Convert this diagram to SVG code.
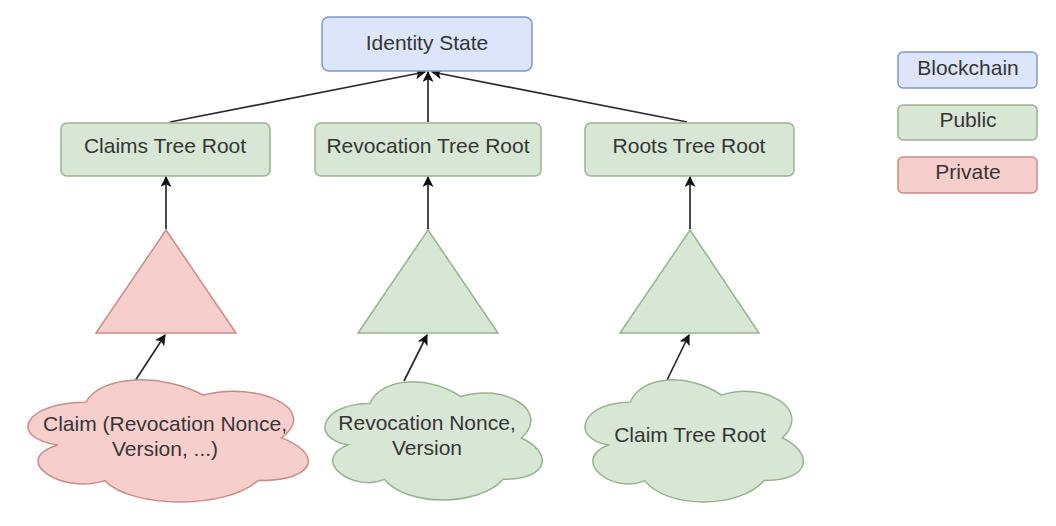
<svg xmlns="http://www.w3.org/2000/svg" xmlns:xlink="http://www.w3.org/1999/xlink" width="1056" height="526" viewBox="0 0 1056 526">
<style>
  .blue { fill: #dce5fa; stroke: #8197cc; stroke-width: 1.5; }
  .green { fill: #d8e6d5; stroke: #97b48d; stroke-width: 1.5; }
  .red { fill: #f6cfcc; stroke: #c98b88; stroke-width: 1.5; }
  text { font-family: "Liberation Sans", Arial, Helvetica, sans-serif; font-size: 21px; fill: #363636; text-anchor: middle; }
  .conn { stroke: #2a2a2a; stroke-width: 1.7; fill: none; marker-end: url(#arrow); }
</style>
<defs>
  <marker id="arrow" viewBox="0 0 10 10" refX="9" refY="5" markerWidth="11" markerHeight="11" markerUnits="userSpaceOnUse" orient="auto">
    <path d="M0 0 L10 5 L0 10 L2.5 5 Z" fill="#111"/>
  </marker>
  <path id="cloud" vector-effect="non-scaling-stroke" d="M25 25 C5 25 0 50 16 55 C0 66 18 90 31 80 C40 100 70 100 80 80 C100 80 100 60 87.5 50 C100 30 80 10 62.5 20 C50 5 30 5 25 25 Z"/>
</defs>
<rect width="1056" height="526" fill="#ffffff"/>

<g id="connectors">
  <line class="conn" x1="170" y1="122" x2="425" y2="72"/>
  <line class="conn" x1="428" y1="122" x2="428" y2="72"/>
  <line class="conn" x1="687" y1="122" x2="432" y2="72"/>
  <line class="conn" x1="166" y1="229" x2="166" y2="177"/>
  <line class="conn" x1="428" y1="229" x2="428" y2="177"/>
  <line class="conn" x1="690" y1="229" x2="690" y2="177"/>
  <line class="conn" x1="135" y1="381" x2="165" y2="335"/>
  <line class="conn" x1="404" y1="381" x2="427" y2="335"/>
  <line class="conn" x1="667" y1="380" x2="689" y2="335"/>
</g>

<g id="identity-state">
  <rect class="blue" x="322" y="17" width="210" height="54" rx="7"/>
  <text x="427" y="50">Identity State</text>
</g>

<g id="claims-tree-root">
  <rect class="green" x="61" y="123" width="209" height="53" rx="6"/>
  <text x="165" y="153">Claims Tree Root</text>
</g>
<g id="revocation-tree-root">
  <rect class="green" x="315" y="123" width="226" height="53" rx="6"/>
  <text x="428" y="153">Revocation Tree Root</text>
</g>
<g id="roots-tree-root">
  <rect class="green" x="585" y="123" width="209" height="53" rx="6"/>
  <text x="689" y="153">Roots Tree Root</text>
</g>

<g id="claims-tree">
  <polygon class="red" points="166,230 236,333 96,333"/>
</g>
<g id="revocation-tree">
  <polygon class="green" points="428,230 498,333 358,333"/>
</g>
<g id="roots-tree">
  <polygon class="green" points="690,230 759,333 620,333"/>
</g>

<g id="claim-cloud">
  <use xlink:href="#cloud" href="#cloud" class="red" transform="translate(7.7 366.6) scale(3.128 1.425)"/>
  <text x="165" y="431">Claim (Revocation Nonce,</text>
  <text x="165" y="456">Version, ...)</text>
</g>
<g id="revocation-cloud">
  <use xlink:href="#cloud" href="#cloud" class="green" transform="translate(309.2 369) scale(2.425 1.379)"/>
  <text x="427" y="430">Revocation Nonce,</text>
  <text x="427" y="455">Version</text>
</g>
<g id="claim-tree-root-cloud">
  <use xlink:href="#cloud" href="#cloud" class="green" transform="translate(569.2 366.6) scale(2.436 1.425)"/>
  <text x="690" y="442">Claim Tree Root</text>
</g>

<g id="legend-blockchain">
  <rect class="blue" x="898" y="52" width="139" height="36" rx="5"/>
  <text x="968" y="75">Blockchain</text>
</g>
<g id="legend-public">
  <rect class="green" x="898" y="105" width="139" height="35" rx="5"/>
  <text x="968" y="127">Public</text>
</g>
<g id="legend-private">
  <rect class="red" x="898" y="157" width="139" height="36" rx="5"/>
  <text x="968" y="179">Private</text>
</g>
</svg>
